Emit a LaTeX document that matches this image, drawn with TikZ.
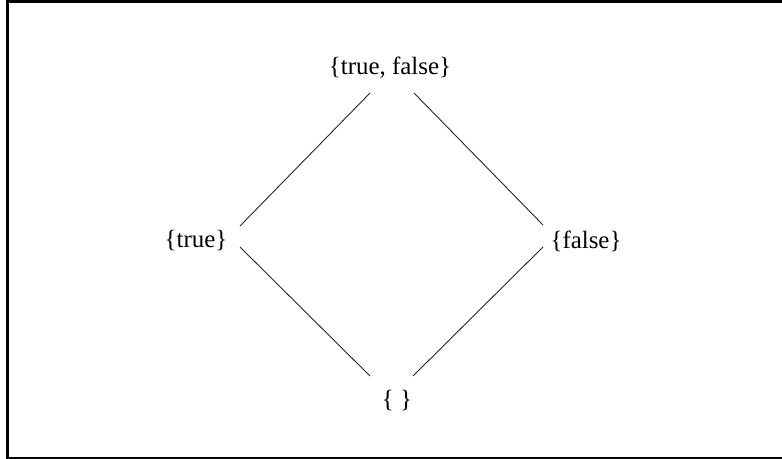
\documentclass[tikz,border=0pt]{standalone}
\usepackage{fontspec}
\setmainfont{Liberation Serif}
\usetikzlibrary{calc}
\begin{document}
\begin{tikzpicture}[x=1bp,y=-1bp,
  lbl/.style={inner sep=0pt,font=\fontsize{25}{30}\selectfont},
  edge/.style={line width=0.9bp,draw=black!85}]
\useasboundingbox (0,0) rectangle (782,459);
% frame
\draw[line width=3bp] (7,459) -- (7,2) -- (782,2);
\draw[line width=3bp] (5.5,458) -- (782,458);
% nodes
\node[lbl] (top) at (390,68) {\{true, false\}};
\node[lbl] (t) at (196,241) {\{true\}};
\node[lbl] (f) at (586,241) {\{false\}};
\node[lbl] (e) at (397,401) {\{ \}};
% connectors
\draw[edge] ($(top.center)+(-20,25)$) -- ($(t.center)+(44,-15)$);
\draw[edge] ($(top.center)+(24,25)$) -- ($(f.center)+(-43,-16)$);
\draw[edge] ($(t.center)+(44,6)$) -- ($(e.center)+(-27,-25)$);
\draw[edge] ($(f.center)+(-43,6)$) -- ($(e.center)+(16,-25)$);
\end{tikzpicture}
\end{document}
